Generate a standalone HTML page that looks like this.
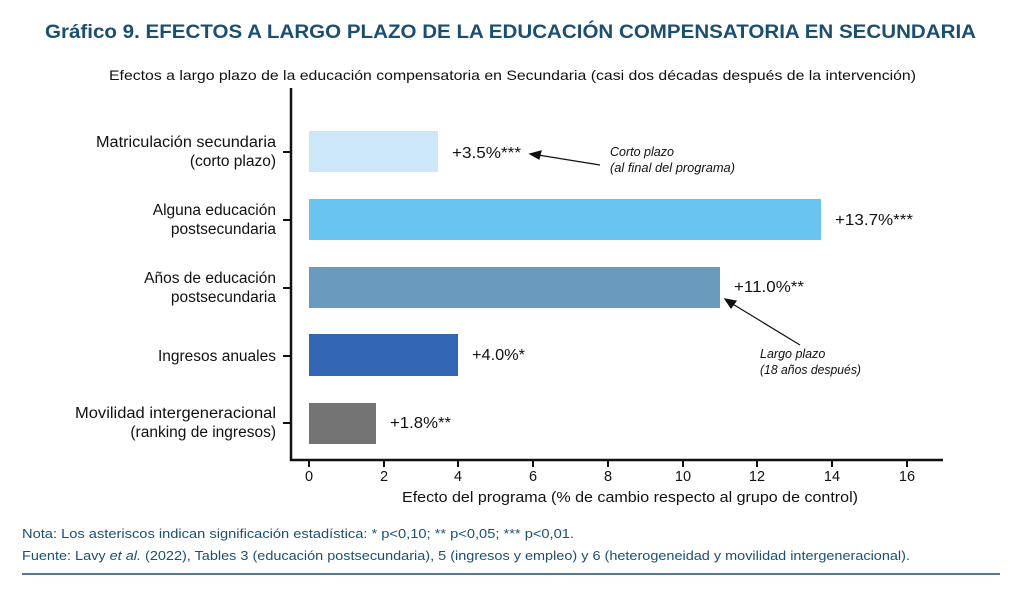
<!DOCTYPE html>
<html><head><meta charset="utf-8"><style>
body{margin:0;background:#fff;}
svg{display:block;font-family:"Liberation Sans",sans-serif;}
</style></head><body>
<svg width="1024" height="590" viewBox="0 0 1024 590">
<text x="45" y="38" font-size="19" font-weight="bold" fill="#1b4f72" textLength="931" lengthAdjust="spacingAndGlyphs">Gráfico 9. EFECTOS A LARGO PLAZO DE LA EDUCACIÓN COMPENSATORIA EN SECUNDARIA</text>
<text x="109" y="80" font-size="14" fill="#111" textLength="807" lengthAdjust="spacingAndGlyphs">Efectos a largo plazo de la educación compensatoria en Secundaria (casi dos décadas después de la intervención)</text>
<g stroke="#111" stroke-width="2.5" fill="none">
<path d="M291 88 V460 H943"/>
</g>
<g stroke="#111" stroke-width="2">
<line x1="283" y1="152" x2="291" y2="152"/><line x1="283" y1="220" x2="291" y2="220"/><line x1="283" y1="288" x2="291" y2="288"/><line x1="283" y1="356" x2="291" y2="356"/><line x1="283" y1="423" x2="291" y2="423"/>
<line x1="309" y1="460" x2="309" y2="467"/><line x1="384" y1="460" x2="384" y2="467"/><line x1="458" y1="460" x2="458" y2="467"/><line x1="533" y1="460" x2="533" y2="467"/><line x1="608" y1="460" x2="608" y2="467"/><line x1="683" y1="460" x2="683" y2="467"/><line x1="757" y1="460" x2="757" y2="467"/><line x1="832" y1="460" x2="832" y2="467"/><line x1="907" y1="460" x2="907" y2="467"/>
</g>
<g font-size="14.5" fill="#111" text-anchor="middle">
<text x="309" y="481">0</text><text x="384" y="481">2</text><text x="458" y="481">4</text><text x="533" y="481">6</text><text x="608" y="481">8</text><text x="683" y="481">10</text><text x="757" y="481">12</text><text x="832" y="481">14</text><text x="907" y="481">16</text>
<text x="630" y="502" textLength="456" lengthAdjust="spacingAndGlyphs">Efecto del programa (% de cambio respecto al grupo de control)</text>
</g>
<rect x="309" y="131" width="129" height="41" fill="#cce7f8"/>
<rect x="309" y="199" width="512" height="41" fill="#69c4ef"/>
<rect x="309" y="267" width="411" height="41" fill="#6a9bbf"/>
<rect x="309" y="334" width="149" height="42" fill="#3366b2"/>
<rect x="309" y="403" width="67" height="41" fill="#737373"/>
<g font-size="15.5" fill="#111" text-anchor="end">
<text x="276" y="147" textLength="180" lengthAdjust="spacingAndGlyphs">Matriculación secundaria</text><text x="276" y="166">(corto plazo)</text>
<text x="276" y="215">Alguna educación</text><text x="276" y="234">postsecundaria</text>
<text x="276" y="283">Años de educación</text><text x="276" y="302">postsecundaria</text>
<text x="276" y="361">Ingresos anuales</text>
<text x="276" y="418" textLength="201" lengthAdjust="spacingAndGlyphs">Movilidad intergeneracional</text><text x="276" y="437">(ranking de ingresos)</text>
</g>
<g font-size="15.5" fill="#111">
<text x="452" y="158" textLength="69" lengthAdjust="spacingAndGlyphs">+3.5%***</text>
<text x="835" y="225" textLength="78" lengthAdjust="spacingAndGlyphs">+13.7%***</text>
<text x="734" y="292" textLength="70" lengthAdjust="spacingAndGlyphs">+11.0%**</text>
<text x="472" y="360" textLength="53" lengthAdjust="spacingAndGlyphs">+4.0%*</text>
<text x="390" y="428" textLength="61" lengthAdjust="spacingAndGlyphs">+1.8%**</text>
</g>
<g font-size="12.5" font-style="italic" fill="#111">
<text x="610" y="156">Corto plazo</text><text x="610" y="172" textLength="125" lengthAdjust="spacingAndGlyphs">(al final del programa)</text>
<text x="760" y="358">Largo plazo</text><text x="760" y="374" textLength="101" lengthAdjust="spacingAndGlyphs">(18 años después)</text>
</g>
<g stroke="#111" stroke-width="1.2" fill="#111">
<line x1="600" y1="165" x2="538" y2="155"/><path d="M530 154 L541 151 L539 159Z"/>
<line x1="800" y1="345" x2="731" y2="303"/><path d="M725 299 L736 301 L731 308Z"/>
</g>
<g font-size="13" fill="#1b4f72">
<text x="22" y="538" textLength="552" lengthAdjust="spacingAndGlyphs">Nota: Los asteriscos indican significación estadística: * p&lt;0,10; ** p&lt;0,05; *** p&lt;0,01.</text>
<text x="22" y="560" textLength="888" lengthAdjust="spacingAndGlyphs">Fuente: Lavy <tspan font-style="italic">et al.</tspan> (2022), Tables 3 (educación postsecundaria), 5 (ingresos y empleo) y 6 (heterogeneidad y movilidad intergeneracional).</text>
</g>
<line x1="22" y1="574" x2="1000" y2="574" stroke="#1b4f72" stroke-width="1.5"/>
</svg>
</body></html>
